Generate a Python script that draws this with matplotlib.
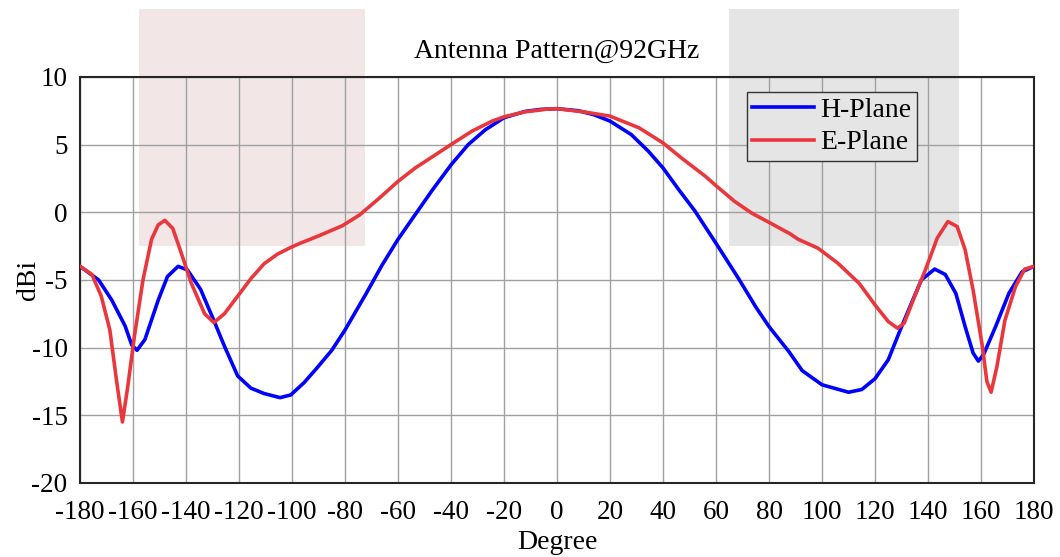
import matplotlib
matplotlib.use('Agg')
import matplotlib.pyplot as plt
from matplotlib.patches import Rectangle

plt.rcParams['font.family'] = ['Liberation Serif', 'DejaVu Serif']
plt.rcParams['axes.unicode_minus'] = False

# H-plane pattern
h_deg = [-180, -173, -168, -163, -160.5, -158.5, -155.5, -150.5, -147, -143,
         -139.5, -134.5, -129.5, -125.5, -120.5, -115.5, -110.5, -104.5, -100.5,
         -95.5, -91, -85, -80, -72, -66, -60, -54.5, -47, -40, -33.5, -27, -20,
         -12, -6, 0, 8, 14, 20, 28, 34.5, 40, 46, 52, 60, 68.5, 75, 80, 87.5, 92.5,
         100, 110, 115, 120, 125, 129.5, 134, 137.5, 142.5, 146.5, 150.5, 154,
         157, 159, 161, 165.5, 170.5, 175.5, 180]
h_dbi = [-4.0, -5.0, -6.5, -8.4, -9.8, -10.2, -9.4, -6.5, -4.75, -4.0,
         -4.26, -5.7, -8.0, -9.9, -12.1, -13.0, -13.4, -13.7, -13.5,
         -12.6, -11.6, -10.2, -8.7, -6.0, -3.9, -2.0, -0.45, 1.65, 3.5, 5.0, 6.1, 6.98,
         7.45, 7.6, 7.65, 7.5, 7.2, 6.73, 5.74, 4.5, 3.27, 1.65, 0.1, -2.3, -4.9, -7.0, -8.45, -10.3, -11.7,
         -12.75, -13.3, -13.1, -12.3, -10.9, -8.7, -6.6, -5.0, -4.2, -4.6, -6.0, -8.45,
         -10.4, -11.0, -10.5, -8.45, -6.0, -4.4, -4.0]

# E-plane pattern
e_deg = [-180, -175.5, -172, -168.75, -166.25, -164, -162, -159.5, -156.25, -153,
         -150.5, -148, -145, -142, -138, -133, -129.5, -125.5, -120.5, -115.5,
         -110.5, -105.5, -100.5, -97, -90, -81, -74.5, -67, -60, -53.5, -47, -40,
         -32, -24.5, -20, -12, -3.5, 0, 10.5, 20, 31, 40, 47, 56, 60, 67, 73.5, 80,
         88, 91, 98.5, 106, 114, 120, 125, 128.5, 131, 135, 139, 143.5, 147.5, 151,
         154, 157, 160.5, 162.2, 163.8, 166, 169, 173, 176.5, 180]
e_dbi = [-4.0, -4.6, -6.2, -8.7, -12.4, -15.5, -12.9, -9.2, -5.0, -2.0,
         -0.94, -0.6, -1.2, -2.9, -5.25, -7.5, -8.15, -7.5, -6.2, -4.9,
         -3.8, -3.1, -2.6, -2.3, -1.75, -1.0, -0.2, 1.05, 2.28, 3.27, 4.1, 5.0,
         6.0, 6.73, 7.05, 7.42, 7.62, 7.65, 7.4, 7.1, 6.23, 5.12, 4.0, 2.65, 1.96, 0.8, -0.07, -0.75,
         -1.6, -2.0, -2.66, -3.77, -5.25, -6.85, -8.08, -8.57, -8.2, -6.2, -4.26, -1.9, -0.69, -1.06,
         -2.78, -5.74, -9.9, -12.5, -13.3, -11.4, -8.0, -5.5, -4.2, -4.0]

x_ticks = list(range(-180, 181, 20))
y_ticks = list(range(-20, 11, 5))

# shaded regions (x0, x1, y0, y1)
pink_box = (-157.7, -72.5, -2.5, 15.0)
gray_box = (65.0, 151.7, -2.5, 15.0)

fig = plt.figure(figsize=(10.6, 5.57), dpi=100)
ax = fig.add_axes([0.0755, 0.133, 0.9, 0.729])

for (x0, x1, y0, y1), col in [(pink_box, '#f2e6e7'), (gray_box, '#e5e5e5')]:
    ax.add_patch(Rectangle((x0, y0), x1 - x0, y1 - y0, facecolor=col,
                           edgecolor='none', clip_on=False, zorder=0.2))

ax.plot(h_deg, h_dbi, color='#0000ff', lw=2.6, label='H-Plane', zorder=3)
ax.plot(e_deg, e_dbi, color='#e8383d', lw=2.6, label='E-Plane', zorder=3)

ax.set_xlim(-180, 180)
ax.set_ylim(-20, 10)
ax.set_xticks(x_ticks)
ax.set_yticks(y_ticks)
ax.set_axisbelow(True)
ax.grid(True, color='#a0a0a0', lw=1.0)
ax.tick_params(length=0, labelsize=19.5)
ax.tick_params(axis='x', pad=12)
ax.tick_params(axis='y', pad=9)
for s in ax.spines.values():
    s.set_color('#262626')
    s.set_linewidth(1.5)

ax.set_title('Antenna Pattern@92GHz', fontsize=20, pad=14)
ax.set_xlabel('Degree', fontsize=20, labelpad=4)
ax.set_ylabel('dBi', fontsize=20)
ax.yaxis.set_label_coords(-0.041, 0.5)

leg = ax.legend(loc='upper left', bbox_to_anchor=(0.699, 0.963), fontsize=20,
                fancybox=False, edgecolor='#333333', facecolor='#e5e5e5',
                framealpha=1, handlelength=2.2, handletextpad=0.25,
                borderpad=0.2, labelspacing=0.25, borderaxespad=0)
leg.get_frame().set_linewidth(1.0)

fig.savefig('out.png', dpi=100)
